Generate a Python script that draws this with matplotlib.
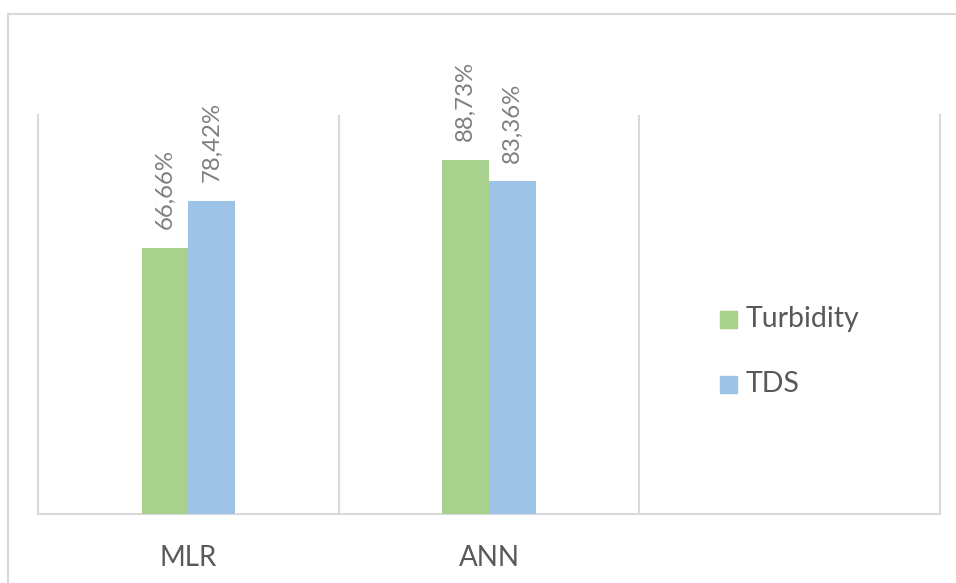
import matplotlib.pyplot as plt
import numpy as np
from matplotlib.lines import Line2D
from matplotlib.patches import Rectangle

# Accuracy of each model for the two water quality parameters (%)
models = ['MLR', 'ANN', '']
turbidity = [66.66, 88.73]
tds = [78.42, 83.36]
series_names = ['Turbidity', 'TDS']

green = '#A9D18E'
blue = '#9DC3E6'
grid_col = '#D9D9D9'
text_col = '#595959'
label_col = '#7F7F7F'

plt.rcParams['font.family'] = ['Lato', 'DejaVu Sans']

W, H = 956, 583
fig = plt.figure(figsize=(W / 100, H / 100), dpi=100)
ax = fig.add_axes([38 / W, 1 - 514 / H, 902 / W, 399 / H])

bar_w = 0.155
x = np.arange(len(turbidity)) + 0.5
b1 = ax.bar(x - bar_w / 2, turbidity, bar_w, color=green, zorder=3)
b2 = ax.bar(x + bar_w / 2, tds, bar_w, color=blue, zorder=3)

# value labels, rotated like Excel data labels
for bars, vals in [(b1, turbidity), (b2, tds)]:
    for rect, v in zip(bars, vals):
        ax.annotate(f'{v:.2f}%'.replace('.', ','),
                    (rect.get_x() + rect.get_width() / 2, v),
                    xytext=(0, 13.5), textcoords='offset points',
                    rotation=90, ha='center', va='bottom',
                    fontsize=17.3, color=label_col)

ax.set_xlim(0, 3)
ax.set_ylim(0, 100)
ax.set_yticks([])
ax.set_xticks(np.arange(len(models)) + 0.5)
ax.set_xticklabels(models, fontsize=20, color=text_col)
ax.tick_params(axis='x', length=0, pad=22)

# category separators
for gx in [1, 2]:
    ax.axvline(gx, color=grid_col, lw=1.5, zorder=1)
for side in ['left', 'right', 'bottom']:
    ax.spines[side].set_color(grid_col)
    ax.spines[side].set_linewidth(1.5)
ax.spines['top'].set_visible(False)

# legend on the right
for i, (name, col) in enumerate(zip(series_names, [green, blue])):
    yc = 319 + i * 65
    fig.patches.append(Rectangle((720 / W, 1 - (yc + 9) / H), 17 / W, 17 / H,
                                 transform=fig.transFigure, color=col))
    fig.text(746 / W, 1 - yc / H, name, fontsize=20.5, color=text_col,
             va='center', ha='left')

# chart area border
fig.add_artist(Line2D([8 / W, 1], [1 - 14 / H, 1 - 14 / H],
                      transform=fig.transFigure, color=grid_col, lw=1.5))
fig.add_artist(Line2D([8 / W, 8 / W], [0, 1 - 14 / H],
                      transform=fig.transFigure, color=grid_col, lw=1.5))

fig.savefig('out.png', dpi=100)
